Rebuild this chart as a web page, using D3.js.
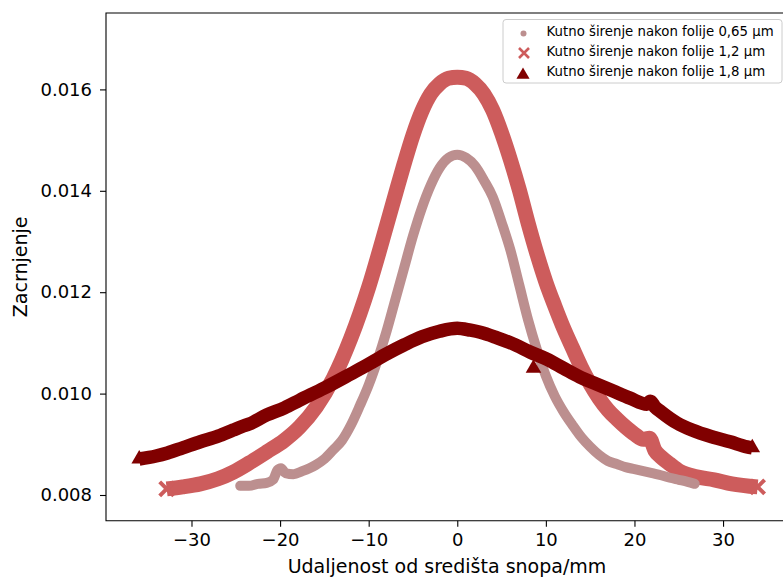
<!DOCTYPE html>
<html><head><meta charset="utf-8">
<script src="https://cdn.jsdelivr.net/npm/d3@7"></script>
<style>body{margin:0;background:#fff}svg{display:block}text{font-family:"DejaVu Sans",sans-serif}</style>
</head><body><svg id="c" width="783" height="579"></svg>
<script>
// ---- data ----
const xTicks = [-30, -20, -10, 0, 10, 20, 30];
const yTicks = [0.008, 0.010, 0.012, 0.014, 0.016];
const seriesNames = ["Kutno širenje nakon folije 0,65 μm", "Kutno širenje nakon folije 1,2 μm", "Kutno širenje nakon folije 1,8 μm"];
const seriesColors = ["#bc8f8f", "#cd5c5c", "#800000"];
const xLabel = "Udaljenost od središta snopa/mm";
const yLabel = "Zacrnjenje";

const x065 = [-24.5,-23.5,-22.5,-21.5,-20.8,-20.3,-19.9,-19.4,-18.5,-17.5,-16,-15,-14,-13,-12,-11,-10,-9,-8,-7,-6,-5,-4,-3,-2,-1,0,1,2,3,4,5,6,7,8,9,10,11,12,13,14,15,16,17,18,19,20,21,22,23,24,25,26,26.8];
const y065 = [0.00818,0.00818,0.00822,0.00824,0.00830,0.00849,0.00853,0.00843,0.00841,0.00847,0.00859,0.00871,0.00889,0.00908,0.00938,0.00976,0.01017,0.01066,0.01122,0.01185,0.01248,0.01311,0.01366,0.01411,0.01445,0.01465,0.01471,0.01465,0.01449,0.01421,0.01388,0.01338,0.01283,0.01214,0.01145,0.01086,0.01035,0.00995,0.00964,0.00938,0.00914,0.00895,0.00879,0.00867,0.00861,0.00855,0.00851,0.00847,0.00843,0.00839,0.00834,0.00830,0.00826,0.00822];

const x12 = [-32.8,-31,-29,-27,-25.3,-23.5,-21.5,-19.5,-17.8,-15.9,-14,-12,-10,-8,-7,-6,-5,-4,-3,-2,-1,0,1,2,3,4,5,6,7,8,9,10,11,12,13,14,15,16,17,18,19,20,21,21.7,22.3,23,24,25.1,27,29,31,33.9];
const y12 = [0.00812,0.00816,0.00822,0.00832,0.00845,0.00863,0.00885,0.00908,0.00934,0.00974,0.01030,0.01110,0.01210,0.01330,0.01392,0.01453,0.01510,0.01557,0.01591,0.01611,0.01622,0.01624,0.01622,0.01611,0.01591,0.01559,0.01514,0.01461,0.01402,0.01336,0.01275,0.01220,0.01173,0.01129,0.01090,0.01052,0.01019,0.00991,0.00968,0.00950,0.00934,0.00920,0.00910,0.00912,0.00888,0.00875,0.00861,0.00847,0.00836,0.00830,0.00822,0.00816];

const x18 = [-35.9,-34,-32.7,-31,-29,-27,-25.3,-24.3,-23.5,-21.5,-19.5,-17.8,-15,-12,-10,-8,-6,-4,-2,0,1.5,2.6,4.5,6.3,8.2,10.1,12,13.8,15.7,17.6,19.5,21.4,21.8,22.3,23,24.8,26.5,28.9,30.8,32.7,33.3];
const y18 = [0.00871,0.00877,0.00883,0.00893,0.00905,0.00916,0.00928,0.00935,0.00940,0.00958,0.00972,0.00987,0.01011,0.01039,0.01058,0.01078,0.01096,0.01112,0.01123,0.01129,0.01125,0.01121,0.01110,0.01098,0.01082,0.01068,0.01050,0.01033,0.01019,0.01005,0.00991,0.00979,0.00985,0.00974,0.00964,0.00942,0.00928,0.00914,0.00905,0.00895,0.00893];
// isolated outlying point of the 1,8 µm series
const x18out = [8.6];
const y18out = [0.01050];

// ---- layout ----
const L = 106, T = 13, R = 789.5, B = 520.7;
const svg = d3.select("#c");
const x = d3.scaleLinear().domain([-39.65, 37.5]).range([L, R]);
const y = d3.scaleLinear().domain([0.007493, 0.017507]).range([B, T]);

const zip = (xs, ys) => xs.map((v, i) => [v, ys[i]]);
const line = d3.line().x(d => x(d[0])).y(d => y(d[1])).curve(d3.curveMonotoneX);

const plot = svg.append("g");
const s065 = zip(x065, y065), s12 = zip(x12, y12), s18 = zip(x18, y18);

const cross = (g, data, col, s, w) => {
  data.forEach(d => {
    const cx = x(d[0]), cy = y(d[1]);
    g.append("path").attr("d", `M${cx-s},${cy-s}L${cx+s},${cy+s}M${cx-s},${cy+s}L${cx+s},${cy-s}`)
      .attr("stroke", col).attr("stroke-width", w).attr("fill", "none");
  });
};

// 1,2 µm (x markers)
plot.append("path").datum(s12).attr("d", line).attr("fill", "none")
  .attr("stroke", seriesColors[1]).attr("stroke-width", 15).attr("stroke-linejoin", "round");
cross(plot, [s12[0], s12[s12.length-1]], seriesColors[1], 7, 4);

// 0,65 µm (circles)
plot.append("path").datum(s065).attr("d", line).attr("fill", "none")
  .attr("stroke", seriesColors[0]).attr("stroke-width", 10).attr("stroke-linecap", "round").attr("stroke-linejoin", "round");

// 1,8 µm (triangles)
plot.append("path").datum(s18).attr("d", line).attr("fill", "none")
  .attr("stroke", seriesColors[2]).attr("stroke-width", 13.5).attr("stroke-linejoin", "round");
const tri = d3.symbol().type(d3.symbolTriangle).size(105);
plot.selectAll("path.tri").data([s18[0], s18[s18.length-1], ...zip(x18out, y18out)]).enter().append("path")
  .attr("class", "tri").attr("d", tri).attr("fill", seriesColors[2])
  .attr("transform", d => `translate(${x(d[0])},${y(d[1])})`);

// ---- axes ----
const fmtX = d => d < 0 ? "\u2212" + Math.abs(d) : String(d);
const ax = svg.append("g").attr("transform", `translate(0,${B})`)
  .call(d3.axisBottom(x).tickValues(xTicks).tickFormat(fmtX).tickSize(6).tickPadding(7));
const ay = svg.append("g").attr("transform", `translate(${L},0)`)
  .call(d3.axisLeft(y).tickValues(yTicks).tickFormat(d3.format(".3f")).tickSize(6).tickPadding(8));
[ax, ay].forEach(g => {
  g.select(".domain").remove();
  g.selectAll("line").attr("stroke", "#000").attr("stroke-width", 1.1);
  g.selectAll("text").attr("font-size", 18).attr("fill", "#000").attr("font-family", "DejaVu Sans");
});
svg.append("path").attr("d", `M${R},${T}H${L}V${B}H${R}`).attr("fill", "none").attr("stroke", "#000").attr("stroke-width", 1.1);

svg.append("text").attr("x", 447).attr("y", 573).attr("text-anchor", "middle")
  .attr("font-size", 19).text(xLabel);
svg.append("text").attr("transform", `translate(27,${(T + B) / 2}) rotate(-90)`).attr("text-anchor", "middle")
  .attr("font-size", 19).text(yLabel);

// ---- legend ----
const lg = svg.append("g");
lg.append("rect").attr("x", 503).attr("y", 19.5).attr("width", 279).attr("height", 63.5).attr("rx", 3)
  .attr("fill", "#fff").attr("fill-opacity", 0.8).attr("stroke", "#ccc");
const rows = [33.5, 53, 73];
lg.append("circle").attr("cx", 523.5).attr("cy", rows[0]).attr("r", 3).attr("fill", seriesColors[0]);
cross(lg, [[x.invert(524), y.invert(rows[1])]], seriesColors[1], 5, 2.6);
lg.append("path").attr("d", d3.symbol().type(d3.symbolTriangle).size(75)).attr("fill", seriesColors[2])
  .attr("transform", `translate(523,${rows[2] + 2})`);
seriesNames.forEach((n, i) => {
  lg.append("text").attr("x", 546.5).attr("y", [35.5, 55.5, 75.5][i]).attr("font-size", 13.3).text(n);
});
</script></body></html>
